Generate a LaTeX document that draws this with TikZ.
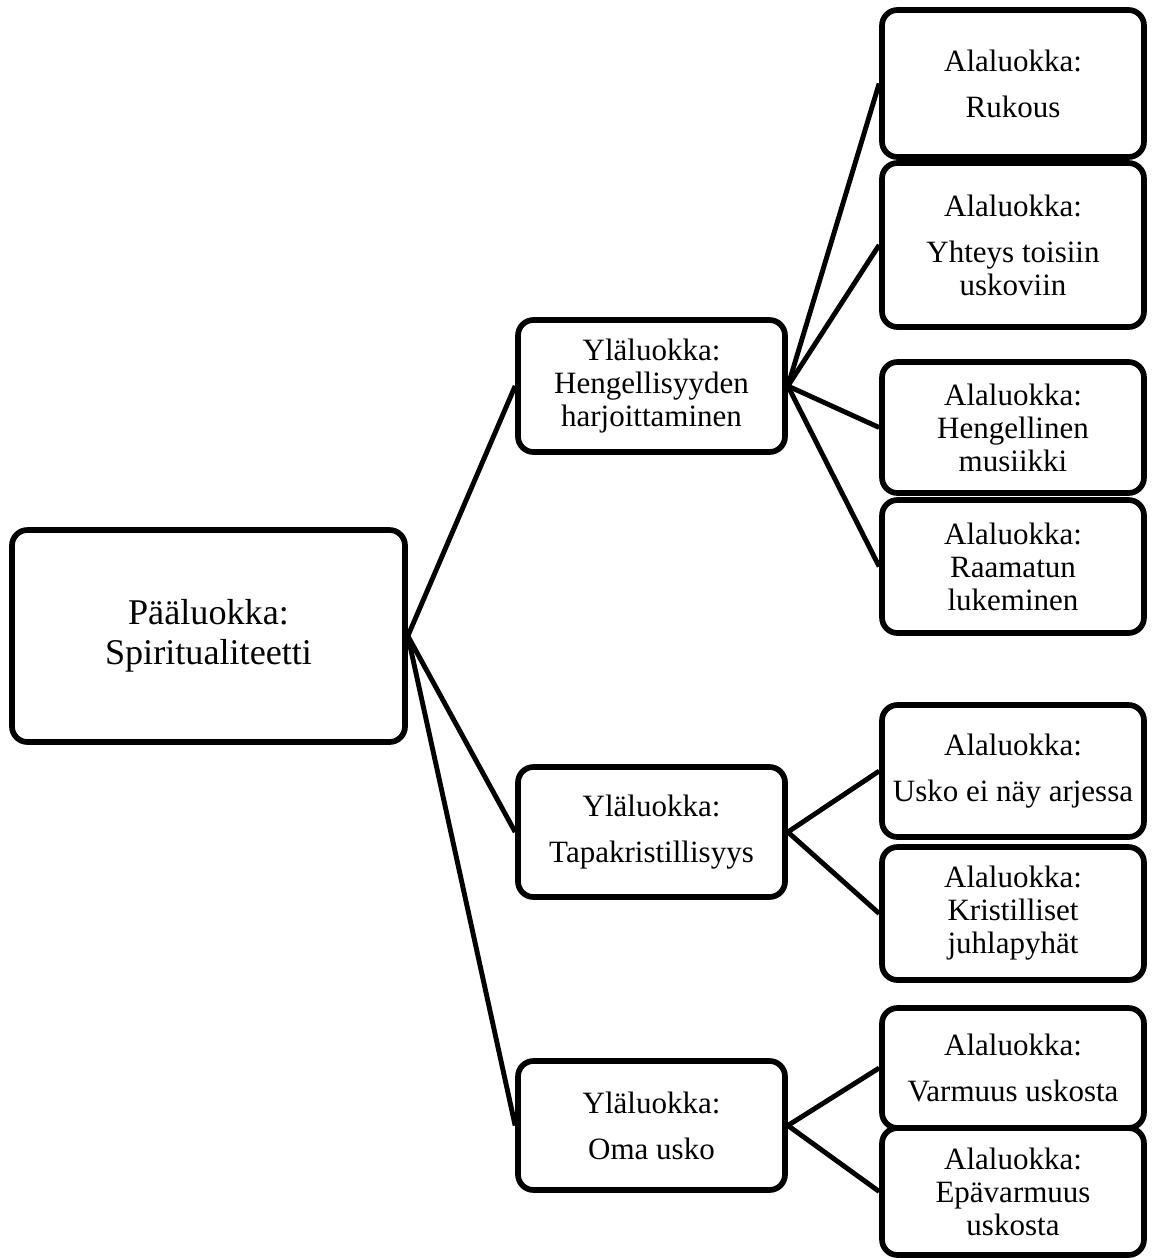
\documentclass[tikz,border=0pt]{standalone}
\usepackage{fontspec}
\setmainfont{Liberation Serif}
\usetikzlibrary{calc}

\begin{document}
\begin{tikzpicture}[x=0.387pt,y=-0.387pt]

\def\pxu{0.387pt}
\def\lwbox{2.2pt}
\def\lwcon{1.9pt}
\def\gap{5pt}
\tikzset{
box/.style 2 args = {draw=black, line width=\lwbox, rounded corners=6pt, fill=white,
	align=center, inner sep=0pt, minimum width=#1*\pxu, minimum height=#2*\pxu,
	font=\fontsize{12}{12.8}\selectfont},
con/.style = {draw=black, line width=\lwcon}
}

\useasboundingbox (0,0) rectangle (1151,1258);

% main class
\node[box={393}{212}, font=\fontsize{14}{15.5}\selectfont] (main) at (208.5,636) {Pääluokka:\\Spiritualiteetti};

% upper classes
\node[box={267}{132}] (yh) at (651.5,386) {Yläluokka:\\Hengellisyyden\\harjoittaminen};
\node[box={267}{130}] (yt) at (651.5,832) {Yläluokka:\\[\gap]Tapakristillisyys};
\node[box={267}{129}] (yo) at (651.5,1125.5) {Yläluokka:\\[\gap]Oma usko};

% subclasses
\node[box={262}{147}] (a1) at (1013,83.5) {Alaluokka:\\[\gap]Rukous};
\node[box={262}{164}] (a2) at (1013,245) {Alaluokka:\\[\gap]Yhteys toisiin\\uskoviin};
\node[box={262}{131}] (a3) at (1013,427.5) {Alaluokka:\\Hengellinen\\musiikki};
\node[box={262}{133}] (a4) at (1013,566.5) {Alaluokka:\\Raamatun\\lukeminen};
\node[box={262}{132}] (a5) at (1013,771) {Alaluokka:\\[\gap]Usko ei näy arjessa};
\node[box={262}{133}] (a6) at (1013,913.5) {Alaluokka:\\Kristilliset\\juhlapyhät};
\node[box={262}{120}] (a7) at (1013,1068) {Alaluokka:\\[\gap]Varmuus uskosta};
\node[box={262}{127}] (a8) at (1013,1191.5) {Alaluokka:\\Epävarmuus\\uskosta};

\draw[con] (main.east) -- (yh.west);
\draw[con] (main.east) -- (yt.west);
\draw[con] (main.east) -- (yo.west);

\draw[con] (yh.east) -- (a1.west);
\draw[con] (yh.east) -- (a2.west);
\draw[con] (yh.east) -- (a3.west);
\draw[con] (yh.east) -- (a4.west);

\draw[con] (yt.east) -- (a5.west);
\draw[con] (yt.east) -- (a6.west);

\draw[con] (yo.east) -- (a7.west);
\draw[con] (yo.east) -- (a8.west);

\end{tikzpicture}
\end{document}
